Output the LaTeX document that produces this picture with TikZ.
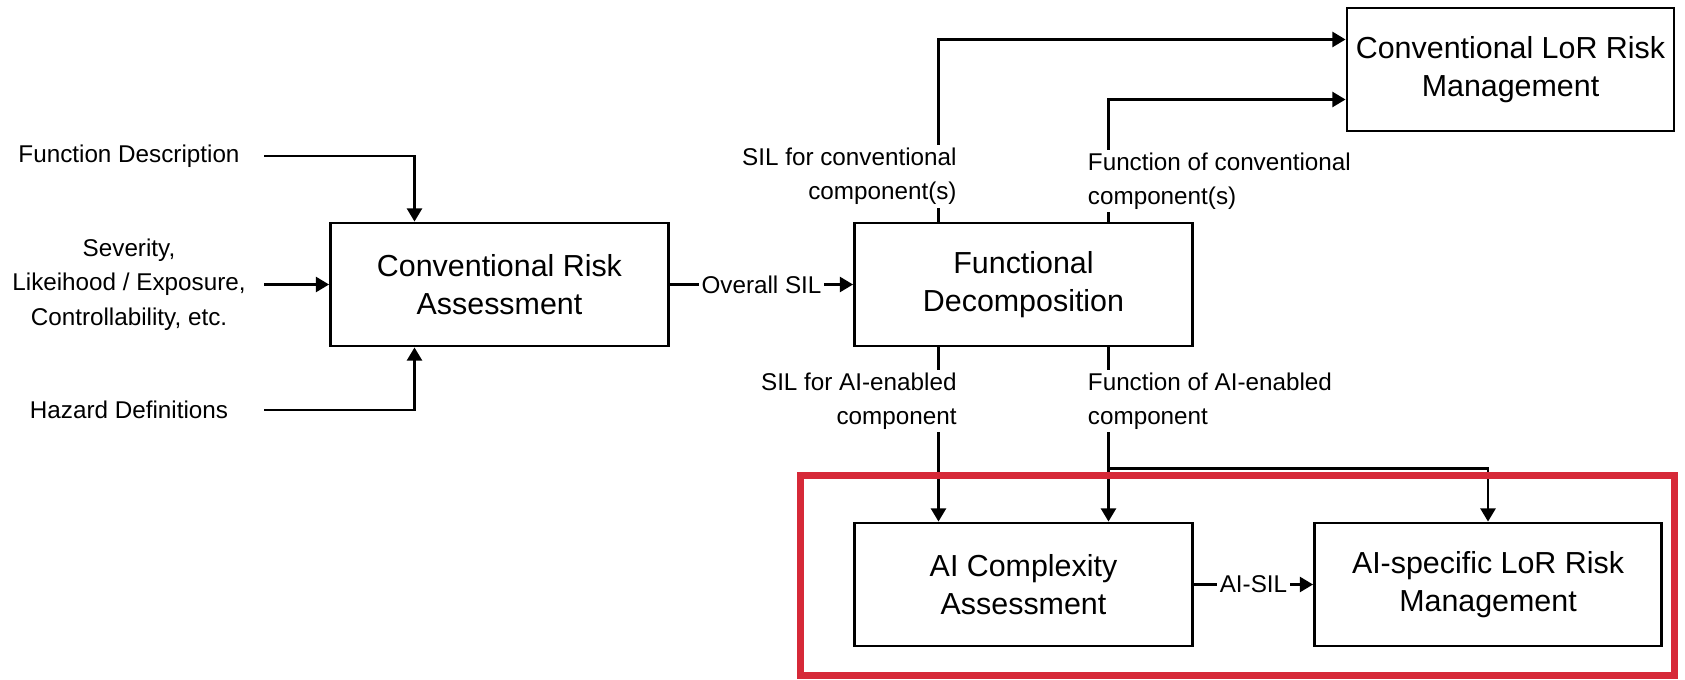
\documentclass[tikz,border=0pt]{standalone}
\usepackage{fontspec}
\setmainfont{Liberation Sans}
\usepackage{xcolor}
\usepackage{tikz}
\usetikzlibrary{
    arrows.meta
}
\definecolor{hlred}{RGB}{214,41,56}

\begin{document}
\begin{tikzpicture}[->,>={Triangle[length=7.5pt,width=8.5pt]},line width=1.5pt]
    \tikzstyle{block}=[draw, rectangle, line width=1.6pt, minimum width=6.76cm, minimum height=2.46cm, align=center, font=\fontsize{17.3}{21.5}\selectfont]
    \tikzstyle{feed}=[minimum width=5.36cm, align=center, font=\fontsize{13.8}{19.5}\selectfont]
    \tikzstyle{lbl}=[fill=white, inner sep=1.5pt, font=\fontsize{13.8}{19.5}\selectfont]
    \useasboundingbox (0, 0) rectangle (33.7, -13.6);
    \node[feed] (fdesc) at (2.58, -3.12) {Function Description};
    \node[feed] (sev) at (2.58, -5.69) {Severity,\\Likeihood / Exposure,\\Controllability, etc.};
    \node[feed] (hz) at (2.58, -8.2) {Hazard Definitions};
    \node[block] (cra) at (9.99, -5.69) {Conventional Risk\\Assessment};
    \node[block] (fdc) at (20.47, -5.69) {Functional\\Decomposition};
    \node[block, minimum width=6.54cm] (clor) at (30.21, -1.39) {Conventional LoR Risk\\Management};
    \node[block] (aic) at (20.47, -11.69) {AI Complexity\\Assessment};
    \node[block, minimum width=6.94cm] (ail) at (29.76, -11.69) {AI-specific LoR Risk\\Management};
    \draw (fdesc.east) -| ([xshift=-1.7cm]cra.north);
    \path (sev.east) edge (cra.west);
    \draw (hz.east) -| ([xshift=-1.7cm]cra.south);
    \path (cra) edge node[lbl] (osil) {Overall SIL} (fdc);
    \draw ([xshift=-1.7cm]fdc.north) |- ([yshift=0.6cm]clor.west);
    \draw ([xshift=1.7cm]fdc.north) |- ([yshift=-0.6cm]clor.west);
    \draw ([xshift=-1.7cm]fdc.south) -- ([xshift=-1.7cm]aic.north);
    \draw ([xshift=1.7cm]fdc.south) -- ([xshift=1.7cm]aic.north);
    \coordinate (split) at ([xshift=1.7cm, yshift=-2.42cm]fdc.south);
    \draw (split) -| (ail.north);
    \path (aic) edge node[lbl] (aisil) {AI-SIL} (ail);
    \node[lbl, align=right, anchor=east] (silc) at (19.21, -3.53) {SIL for conventional\\component(s)};
    \node[lbl, align=left, anchor=west] (func) at (21.68, -3.62) {Function of conventional\\component(s)};
    \node[lbl, align=right, anchor=east] (sila) at (19.21, -8.02) {SIL for AI-enabled\\component};
    \node[lbl, align=left, anchor=west] (funa) at (21.68, -8.02) {Function of AI-enabled\\component};
    \draw[-, hlred, line width=0.14cm] (16.01, -9.51) rectangle (33.49, -13.51);
\end{tikzpicture}
\end{document}
